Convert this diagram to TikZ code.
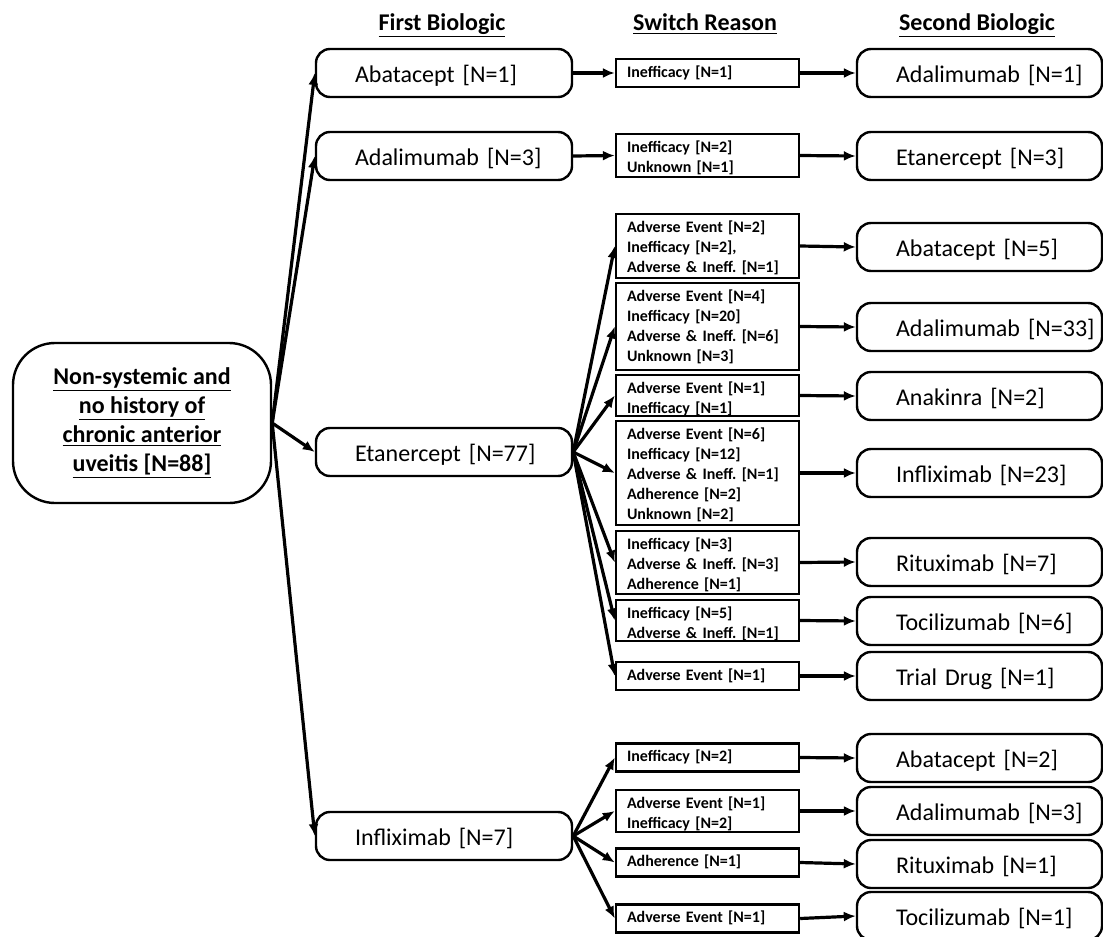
\documentclass[tikz,border=0pt]{standalone}
\usepackage{fontspec}
\setmainfont{Carlito}
\usetikzlibrary{arrows.meta}
\tikzstyle{drug}=[draw,rounded corners=7pt,minimum height=24pt,inner xsep=19.5pt,align=left,text height=11pt,text depth=2pt,font=\fontsize{12}{14.5}\selectfont]
\tikzstyle{firstdrug}=[drug,text width=89pt]
\tikzstyle{seconddrug}=[drug,text width=83.5pt]
\tikzstyle{reason}=[draw,text width=80.5pt,inner xsep=5.5pt,inner ysep=2.5pt,align=left,text height=6.5pt,font=\fontsize{8}{10}\selectfont\bfseries\frenchspacing]
\tikzstyle{group}=[draw,rounded corners=21pt,minimum width=129pt,minimum height=80pt,align=center,font=\fontsize{12}{14.5}\selectfont\bfseries]
\tikzstyle{heading}=[anchor=base,font=\fontsize{12}{14.5}\selectfont\bfseries]
\tikzstyle{link}=[->,line width=1.6pt]
\newcommand{\newDrug}[4]{\node[#3](#1) at (#4) {\mbox{#2}};}
\newcommand{\newReason}[4]{\node[reason,text depth=#3](#1) at (#4) {#2};}
\newcommand{\newLink}[2]{\draw[link] (#1) -- (#2);}
\begin{document}
\begin{tikzpicture}[x=0.5pt,y=-0.5pt,
      >={Latex[length=6pt,width=5pt]},
      line width=1.2pt  %box borders, links are thicker
      ]
      \useasboundingbox (0,0) rectangle (1103,937);
      \node[heading] (hFirst) at (442,30) {\underline{First Biologic}};
      \node[heading] (hSwitch) at (705,30) {\underline{Switch Reason}};
      \node[heading] (hSecond) at (977,30) {\underline{Second Biologic}};

      \node[group] (root) at (142,423) {\underline{Non-systemic and}\\\underline{no history of}\\\underline{chronic anterior}\\\underline{uveitis [N=88]}};

      \newDrug{aba}{Abatacept [N=1]}{firstdrug}{444,73}
      \newDrug{ada}{Adalimumab [N=3]}{firstdrug}{444,156}
      \newDrug{eta}{Etanercept [N=77]}{firstdrug}{444,452}
      \newDrug{inf}{Infliximab [N=7]}{firstdrug}{444,836}

      \newReason{r1}{Inefficacy [N=1]}{2.5pt}{707.5,73}
      \newReason{r2}{Inefficacy [N=2]\\Unknown [N=1]}{10pt}{707.5,155.5}
      \newReason{r3}{Adverse Event [N=2]\\Inefficacy [N=2],\\Adverse \& Ineff. [N=1]}{20.5pt}{707.5,246}
      \newReason{r4}{Adverse Event [N=4]\\Inefficacy [N=20]\\Adverse \& Ineff. [N=6]\\Unknown [N=3]}{32pt}{707.5,326.5}
      \newReason{r5}{Adverse Event [N=1]\\Inefficacy [N=1]}{9pt}{707.5,395.5}
      \newReason{r6}{Adverse Event [N=6]\\Inefficacy [N=12]\\Adverse \& Ineff. [N=1]\\Adherence [N=2]\\Unknown [N=2]}{40.5pt}{707.5,473}
      \newReason{r7}{Inefficacy [N=3]\\Adverse \& Ineff. [N=3]\\Adherence [N=1]}{20pt}{707.5,562.5}
      \newReason{r8}{Inefficacy [N=5]\\Adverse \& Ineff. [N=1]}{9pt}{707.5,620.5}
      \newReason{r9}{Adverse Event [N=1]}{2.5pt}{707.5,676}
      \newReason{r10}{Inefficacy [N=2]}{2.5pt}{707.5,757.5}
      \newReason{r11}{Adverse Event [N=1]\\Inefficacy [N=2]}{9.5pt}{707.5,811}
      \newReason{r12}{Adherence [N=1]}{2.5pt}{707.5,862.5}
      \newReason{r13}{Adverse Event [N=1]}{2.5pt}{707.5,918.5}

      \newDrug{s1}{Adalimumab [N=1]}{seconddrug}{979.5,73}
      \newDrug{s2}{Etanercept [N=3]}{seconddrug}{979.5,156}
      \newDrug{s3}{Abatacept [N=5]}{seconddrug}{979.5,247}
      \newDrug{s4}{Adalimumab [N=33]}{seconddrug}{979.5,327}
      \newDrug{s5}{Anakinra [N=2]}{seconddrug}{979.5,396}
      \newDrug{s6}{Infliximab [N=23]}{seconddrug}{979.5,473}
      \newDrug{s7}{Rituximab [N=7]}{seconddrug}{979.5,562}
      \newDrug{s8}{Tocilizumab [N=6]}{seconddrug}{979.5,621}
      \newDrug{s9}{Trial Drug [N=1]}{seconddrug}{979.5,676}
      \newDrug{s10}{Abatacept [N=2]}{seconddrug}{979.5,758}
      \newDrug{s11}{Adalimumab [N=3]}{seconddrug}{979.5,811}
      \newDrug{s12}{Rituximab [N=1]}{seconddrug}{979.5,864}
      \newDrug{s13}{Tocilizumab [N=1]}{seconddrug}{979.5,916}

      \foreach \f in {aba,ada,eta,inf}
        {\newLink{root.east}{\f.west}}
      \newLink{aba.east}{r1.west}
      \newLink{ada.east}{r2.west}
      \foreach \r in {3,...,9}
        {\newLink{eta.east}{r\r.west}}
      \foreach \r in {10,...,13}
        {\newLink{inf.east}{r\r.west}}
      \foreach \r in {1,...,13}
        {\newLink{r\r.east}{s\r.west}}
    \end{tikzpicture}
\end{document}
